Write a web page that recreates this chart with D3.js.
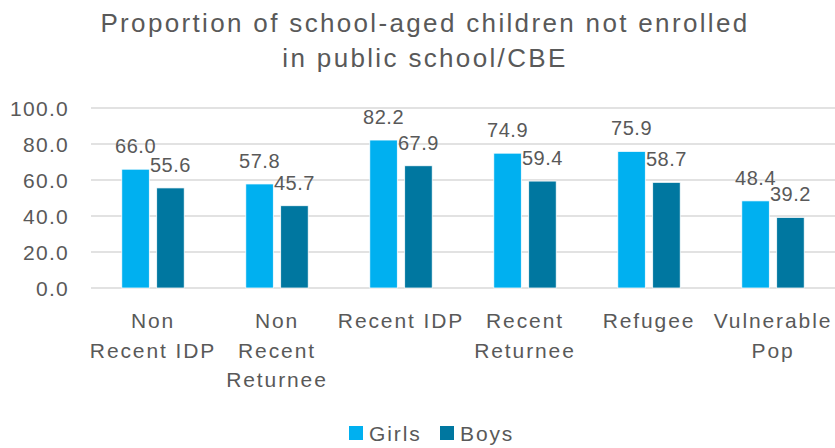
<!DOCTYPE html>
<html>
<head>
<meta charset="utf-8">
<script src="https://d3js.org/d3.v7.min.js"></script>
<style>
  body { margin: 0; background: #fff; }
  text { font-family: "Liberation Sans", Arial, sans-serif; fill: #595959; }
</style>
</head>
<body>
<div id="chart"></div>
<script>
// data
var categories = ["Non Recent IDP", "Non Recent Returnee", "Recent IDP", "Recent Returnee", "Refugee", "Vulnerable Pop"];
var catLines = [["Non", "Recent IDP"], ["Non", "Recent", "Returnee"], ["Recent IDP"], ["Recent", "Returnee"], ["Refugee"], ["Vulnerable", "Pop"]];
var girls = [66.0, 57.8, 82.2, 74.9, 75.9, 48.4];
var boys = [55.6, 45.7, 67.9, 59.4, 58.7, 39.2];
var seriesNames = ["Girls", "Boys"];
var yTicks = [0, 20, 40, 60, 80, 100];
var titleLines = ["Proportion of school-aged children not enrolled", "in public school/CBE"];

var colors = {"Girls": "#00B0F0", "Boys": "#0077A0"};
var width = 835, height = 448;

var svg = d3.select("#chart").append("svg")
  .attr("width", width)
  .attr("height", height);

var x0 = d3.scaleBand().domain(categories).range([91, 835]);
var x1 = d3.scaleBand().domain(seriesNames).range([-31.2, 31.2]).paddingInner(0.212);
var y = d3.scaleLinear().domain([0, 100]).range([288, 108]);

// title
svg.append("g").selectAll("text")
  .data(titleLines)
  .enter().append("text")
  .attr("x", 425)
  .attr("y", function(d, i) { return 32 + i * 35; })
  .attr("text-anchor", "middle")
  .style("font-size", "26px")
  .style("letter-spacing", "0.09em")
  .text(function(d) { return d; });

// gridlines
svg.append("g").selectAll("line")
  .data(yTicks)
  .enter().append("line")
  .attr("x1", 91).attr("x2", 835)
  .attr("y1", function(d) { return y(d); })
  .attr("y2", function(d) { return y(d); })
  .attr("stroke", "#D9D9D9")
  .attr("stroke-width", 1.5);

// y axis labels
var yAxis = svg.append("g")
  .attr("transform", "translate(69,0)")
  .call(d3.axisLeft(y).tickValues(yTicks).tickFormat(d3.format(".1f")).tickSize(0).tickPadding(0));
yAxis.select(".domain").remove();
yAxis.selectAll("text")
  .attr("dy", "0.38em")
  .style("font-size", "21px")
  .style("letter-spacing", "1.3px")
  .style("font-family", "Liberation Sans, Arial, sans-serif")
  .attr("fill", "#595959");

// bars
var rows = categories.map(function(c, i) { return {cat: c, vals: [{k: "Girls", v: girls[i]}, {k: "Boys", v: boys[i]}]}; });

var groups = svg.append("g").selectAll("g")
  .data(rows)
  .enter().append("g")
  .attr("transform", function(d) { return "translate(" + (x0(d.cat) + x0.bandwidth() / 2) + ",0)"; });

groups.selectAll("rect")
  .data(function(d) { return d.vals; })
  .enter().append("rect")
  .attr("x", function(d) { return x1(d.k); })
  .attr("width", x1.bandwidth())
  .attr("y", function(d) { return y(d.v); })
  .attr("height", function(d) { return y(0) - y(d.v); })
  .attr("fill", function(d) { return colors[d.k]; })
  .attr("stroke", "#ffffff")
  .attr("stroke-width", 0.75);

// data labels
groups.selectAll("text.lbl")
  .data(function(d) { return d.vals; })
  .enter().append("text")
  .attr("class", "lbl")
  .attr("x", function(d) { return x1(d.k) + x1.bandwidth() / 2; })
  .attr("y", function(d) { return y(d.v) - 16; })
  .attr("text-anchor", "middle")
  .style("font-size", "20px")
  .style("letter-spacing", "0.5px")
  .attr("fill", "#404040")
  .text(function(d) { return d3.format(".1f")(d.v); });

// x axis labels
var xAxis = svg.append("g")
  .attr("transform", "translate(0,288)")
  .call(d3.axisBottom(x0).tickSize(0));
xAxis.select(".domain").remove();
xAxis.selectAll(".tick text").each(function(d, i) {
  var t = d3.select(this).text(null).attr("y", 0).attr("dy", null)
    .style("font-size", "21px")
    .style("letter-spacing", "0.09em")
    .style("font-family", "Liberation Sans, Arial, sans-serif")
    .attr("fill", "#595959");
  catLines[i].forEach(function(line, j) {
    t.append("tspan").attr("x", 0).attr("y", 40 + j * 29.5).text(line);
  });
});

// legend
var legendX = [349, 440];
var legend = svg.append("g").selectAll("g")
  .data(seriesNames)
  .enter().append("g")
  .attr("transform", function(d, i) { return "translate(" + legendX[i] + ",426)"; });
legend.append("rect")
  .attr("width", 14).attr("height", 14)
  .attr("fill", function(d) { return colors[d]; });
legend.append("text")
  .attr("x", 20).attr("y", 15)
  .style("font-size", "21px")
  .style("letter-spacing", "0.09em")
  .text(function(d) { return d; });
</script>
</body>
</html>
